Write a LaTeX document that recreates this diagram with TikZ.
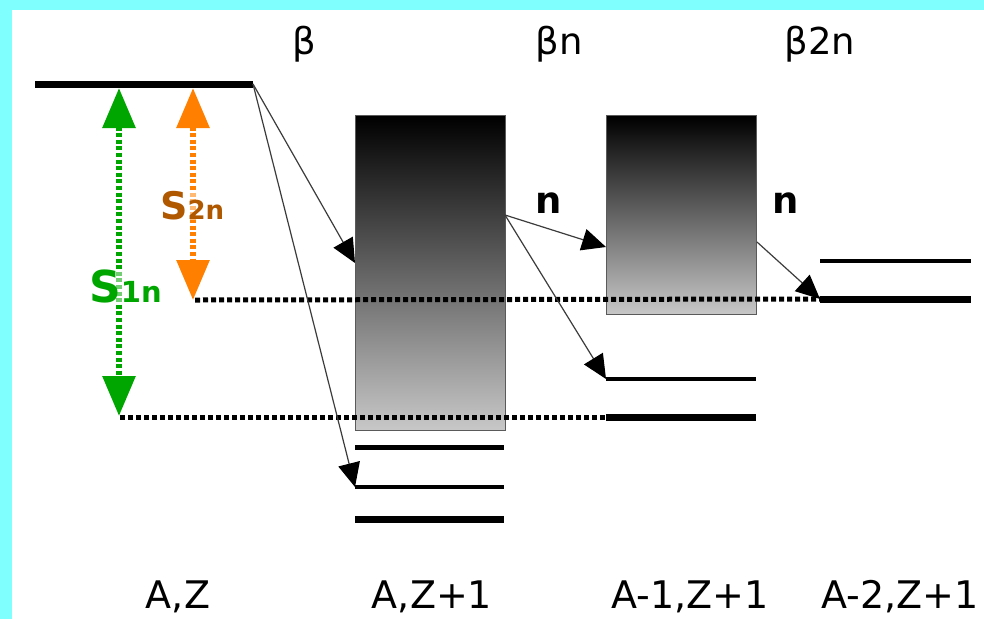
\documentclass[tikz,border=0pt]{standalone}
\usepackage{fontspec}
\setmainfont{DejaVu Sans}
\usetikzlibrary{arrows.meta}
\definecolor{framecyan}{RGB}{128,255,255}
\definecolor{sgreen}{RGB}{0,166,0}
\definecolor{sorange}{RGB}{255,128,0}
\definecolor{sbrown}{RGB}{176,88,0}
\definecolor{boxlow}{RGB}{200,200,200}
\definecolor{boxedge}{RGB}{90,90,90}
\definecolor{thinline}{RGB}{60,60,60}
\newcommand\toplblsize{\fontsize{37}{40}\selectfont}
\newcommand\botlblsize{\fontsize{38}{40}\selectfont}

\begin{document}
\begin{tikzpicture}[x=1pt,y=-1pt,
  thicklvl/.style={line width=7pt},
  midlvl/.style={line width=5pt},
  thinlvl/.style={line width=4pt},
  dotlvl/.style={line width=5pt, dash pattern=on 5pt off 3pt},
  band/.style={draw=boxedge, line width=1.2pt, top color=black, bottom color=boxlow,
    minimum width=150pt, anchor=north west, inner sep=0pt},
  decay/.style={draw=thinline, line width=1.2pt,
    -{Triangle[length=24pt,width=22pt,color=black]}},
  sep/.style={line width=6pt, dash pattern=on 4pt off 2.6pt,
    {Triangle[length=40pt,width=32pt]}-{Triangle[length=40pt,width=32pt]}},
  toplbl/.style={anchor=base, font=\toplblsize},
  botlbl/.style={anchor=base, font=\botlblsize, inner sep=0pt, text depth=0pt},
  nlbl/.style={anchor=base, font=\toplblsize\bfseries},
  slbl/.style={anchor=base west, inner sep=0pt, fill=white, fill opacity=0.45, text opacity=1}
]
% frame and page
\fill[framecyan] (0,0) rectangle (984,619);
\fill[white] (12,10) rectangle (984,619);
\useasboundingbox (0,0) rectangle (984,619);

% ground state of the parent nucleus
\coordinate (p0a) at (35,84);
\coordinate (p0b) at (253,84);
\draw[thicklvl] (p0a) -- (p0b);

% continua above the neutron thresholds
\node[band, minimum height=315pt] (box1) at (355,115) {};
\node[band, minimum height=199pt] (box2) at (606,115) {};

% levels of A,Z+1
\coordinate (a1l) at (355,447); \coordinate (a1r) at (504,447);
\coordinate (a2l) at (355,487); \coordinate (a2r) at (504,487);
\coordinate (a3l) at (355,519); \coordinate (a3r) at (504,519);
\draw[midlvl] (a1l) -- (a1r);
\draw[thinlvl] (a2l) -- (a2r);
\draw[thicklvl] (a3l) -- (a3r);

% levels of A-1,Z+1
\coordinate (b1l) at (606,379); \coordinate (b1r) at (756,379);
\coordinate (b2l) at (606,417); \coordinate (b2r) at (756,417);
\draw[thinlvl] (b1l) -- (b1r);
\draw[thicklvl] (b2l) -- (b2r);

% levels of A-2,Z+1
\coordinate (c1l) at (820,261); \coordinate (c1r) at (971,261);
\coordinate (c2l) at (820,299); \coordinate (c2r) at (971,299);
\draw[thinlvl] (c1l) -- (c1r);
\draw[thicklvl] (c2l) -- (c2r);

% neutron separation thresholds
\coordinate (s1a) at (120,417);
\coordinate (s2a) at (195,300);
\draw[dotlvl] (s1a) -- (b2l);
\draw[dotlvl] (s2a) -- (c2l);

% separation energies
\coordinate (g1t) at (119,88);
\coordinate (g1b) at (119,416);
\coordinate (o1t) at (193,88);
\coordinate (o1b) at (193,300);
\draw[sep, sgreen] (g1t) -- (g1b);
\draw[sep, sorange] (o1t) -- (o1b);
\node[slbl, text=sgreen] (s1n) at (89,302)
  {\bfseries\fontsize{44}{44}\selectfont S\fontsize{29}{29}\selectfont 1n};
\node[slbl, text=sbrown] (s2n) at (160,219)
  {\bfseries\fontsize{38}{38}\selectfont S\fontsize{26}{26}\selectfont 2n};

% decay branches
\coordinate (d1) at (355,263);
\coordinate (d2) at (355,487);
\coordinate (e0) at (505,215);
\coordinate (e1) at (606,247);
\coordinate (e2) at (606,379);
\coordinate (f0) at (757,242);
\coordinate (f1) at (820,299);
\draw[decay] (p0b) -- (d1);
\draw[decay] (p0b) -- (d2);
\draw[decay] (e0) -- (e1);
\draw[decay] (e0) -- (e2);
\draw[decay] (f0) -- (f1);

% channel labels
\node[toplbl] (lbeta) at (304,54) {β};
\node[toplbl] (lbetan) at (559,54) {βn};
\node[toplbl] (lbeta2n) at (820,54) {β2n};
\node[nlbl] (ln1) at (549,213) {n};
\node[nlbl] (ln2) at (786,213) {n};

% nuclei
\node[botlbl] (nAZ) at (178,608) {A,Z};
\node[botlbl] (nAZ1) at (432,608) {A,Z+1};
\node[botlbl] (nA1) at (690,608) {A-1,Z+1};
\node[botlbl] (nA2) at (900,608) {A-2,Z+1};
\end{tikzpicture}
\end{document}
